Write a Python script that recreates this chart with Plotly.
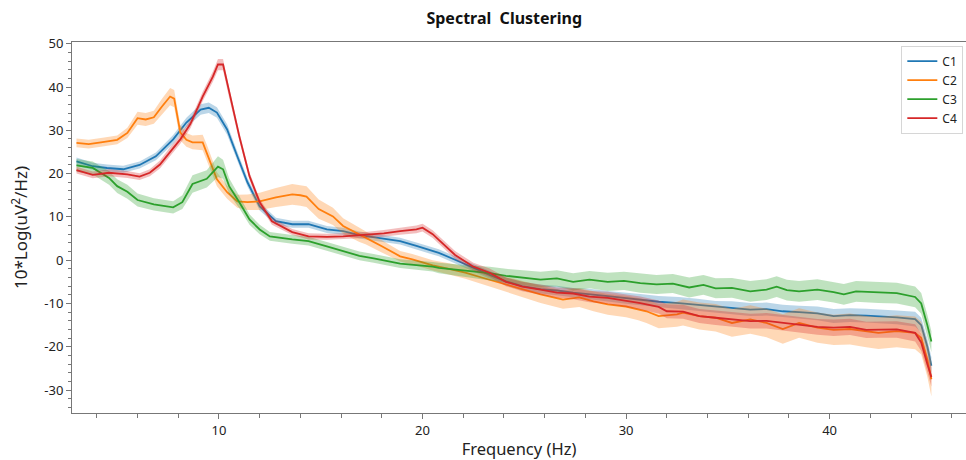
import plotly.graph_objects as go

# ---------------- data ----------------
clusters = ["C1", "C2", "C3", "C4"]
colors = ["#1f77b4", "#ff7f0e", "#2ca02c", "#d62728"]
bands = ["rgba(31,119,180,0.3)", "rgba(255,127,14,0.3)", "rgba(44,160,44,0.3)", "rgba(214,39,40,0.3)"]

freq_c1 = [3.0, 3.8, 4.5, 5.3, 6.1, 6.9, 7.75, 8.4, 9.1, 9.5, 9.9, 10.4, 10.9, 11.4, 12.0, 12.8, 13.6, 14.4, 15.3, 16.1,
           16.9, 17.6, 18.9, 19.7, 20.5, 20.8, 21.6, 22.5, 23.3, 24.1, 24.9, 25.8, 26.6, 27.4, 28.2, 29.1, 29.9, 30.7,
           31.6, 32.6, 33.5, 34.4, 35.2, 36.1, 36.9, 37.7, 38.5, 39.4, 40.2, 41.0, 41.8, 42.4, 43.3, 44.2, 44.5, 44.8, 45.0]
mean_c1 = [22.8, 21.7, 21.3, 21.0, 22.0, 24.0, 27.9, 31.8, 34.8, 35.2, 34.1, 30.2, 24.0, 18.0, 12.4, 9.0, 8.3, 8.3, 7.1, 6.7,
           5.8, 5.3, 4.4, 3.3, 2.1, 1.7, 0.1, -1.8, -3.4, -4.9, -6.0, -6.7, -7.0, -7.5, -7.8, -8.3, -8.7, -9.1,
           -9.6, -9.9, -10.3, -10.8, -11.0, -11.4, -11.3, -11.8, -12.0, -12.3, -12.9, -12.7, -12.8, -12.9, -13.2, -13.6, -15.0, -20.0, -24.4]
sem_c1 = [0.9, 0.8, 0.8, 0.8, 0.8, 0.9, 1.0, 1.1, 1.2, 1.2, 1.2, 1.2, 1.1, 1.0, 0.9, 0.8, 0.8, 0.8, 0.8, 0.8,
          0.8, 0.8, 0.8, 0.8, 0.8, 0.8, 0.8, 0.8, 0.9, 0.9, 1.0, 1.0, 1.1, 1.1, 1.2, 1.2, 1.3, 1.3,
          1.3, 1.4, 1.4, 1.4, 1.5, 1.5, 1.5, 1.5, 1.5, 1.6, 1.6, 1.6, 1.6, 1.6, 1.6, 1.7, 1.7, 1.8, 2.0]

freq_c2 = [3.0, 3.6, 4.2, 5.0, 5.5, 6.0, 6.4, 6.8, 7.2, 7.6, 7.8, 8.1, 8.4, 8.7, 9.2, 9.4, 9.9, 10.4, 10.9, 11.4,
           12.0, 12.8, 13.6, 14.0, 14.3, 14.9, 15.6, 16.1, 16.9, 17.2, 18.0, 18.9, 19.5, 20.5, 21.3, 22.1, 22.9, 23.7,
           24.5, 25.8, 26.9, 27.7, 28.4, 29.1, 30.0, 30.6, 31.0, 31.6, 32.5, 32.8, 33.6, 34.4, 35.2, 36.1, 36.9, 37.7,
           38.5, 39.4, 40.2, 41.0, 41.8, 42.4, 43.3, 44.2, 44.5, 44.8, 45.0]
mean_c2 = [27.1, 26.8, 27.2, 27.8, 29.4, 32.8, 32.5, 33.0, 35.5, 37.8, 37.3, 29.5, 27.8, 27.2, 27.2, 24.9, 18.7, 15.7, 13.6, 13.4,
           13.6, 14.5, 15.2, 15.0, 14.7, 11.8, 10.1, 7.9, 5.8, 5.2, 3.2, 0.9, 0.2, -1.2, -2.0, -2.9, -4.0, -5.1,
           -6.1, -7.9, -9.1, -8.6, -9.5, -10.2, -10.7, -11.3, -11.8, -12.9, -12.5, -12.1, -12.9, -13.3, -14.5, -13.7, -14.5, -15.9,
           -14.5, -15.6, -16.1, -15.9, -16.5, -16.8, -16.4, -16.8, -18.0, -23.0, -27.5]
sem_c2 = [1.0, 1.0, 1.0, 1.0, 1.2, 1.5, 1.5, 1.5, 1.8, 2.0, 2.0, 1.8, 1.6, 1.6, 1.8, 1.8, 1.6, 1.5, 1.5, 1.8,
          2.0, 2.2, 2.4, 2.4, 2.4, 2.2, 2.0, 1.8, 1.6, 1.5, 1.4, 1.2, 1.2, 1.2, 1.3, 1.4, 1.5, 1.6,
          1.8, 2.0, 2.1, 2.2, 2.3, 2.4, 2.5, 2.6, 2.7, 2.8, 2.9, 3.0, 3.1, 3.2, 3.2, 3.3, 3.3, 3.4,
          3.4, 3.5, 3.5, 3.6, 3.6, 3.7, 3.7, 3.8, 3.8, 3.9, 4.0]

freq_c3 = [3.0, 3.8, 4.6, 5.0, 5.5, 6.0, 6.8, 7.75, 8.2, 8.7, 9.4, 9.7, 9.95, 10.2, 10.5, 11.0, 11.5, 12.0, 12.5, 13.6,
           14.4, 15.3, 16.1, 16.9, 17.6, 18.9, 20.5, 20.8, 22.1, 22.5, 23.3, 24.1, 24.9, 25.8, 26.6, 27.4, 28.2, 29.1,
           29.9, 30.7, 31.5, 32.3, 33.1, 33.8, 34.4, 35.2, 36.1, 36.9, 37.4, 37.9, 38.5, 39.4, 40.2, 40.7, 41.3, 42.4,
           43.3, 44.2, 44.5, 44.8, 45.0]
mean_c3 = [21.9, 21.3, 19.0, 17.1, 15.8, 13.9, 12.9, 12.2, 13.4, 17.6, 18.8, 20.3, 21.6, 21.0, 17.1, 13.4, 9.4, 7.1, 5.5, 4.8,
           4.4, 3.2, 2.1, 1.0, 0.4, -0.8, -1.5, -1.8, -2.4, -2.6, -3.0, -3.6, -4.0, -4.5, -4.2, -5.0, -4.5, -5.0,
           -4.8, -5.3, -5.6, -5.4, -6.3, -5.7, -6.5, -6.4, -7.2, -6.8, -6.1, -6.9, -7.2, -6.8, -7.4, -7.9, -7.2, -7.5,
           -7.6, -8.5, -10.0, -15.0, -18.8]
sem_c3 = [1.5, 1.5, 1.6, 1.6, 1.6, 1.5, 1.4, 1.4, 1.6, 2.0, 2.0, 2.2, 2.4, 2.2, 1.8, 1.4, 1.2, 1.1, 1.0, 1.0,
          1.0, 1.0, 1.0, 1.0, 1.0, 1.0, 1.1, 1.2, 1.3, 1.4, 1.5, 1.6, 1.7, 1.8, 1.9, 2.0, 2.0, 2.1,
          2.1, 2.2, 2.2, 2.2, 2.3, 2.3, 2.3, 2.3, 2.4, 2.4, 2.4, 2.4, 2.4, 2.4, 2.4, 2.4, 2.4, 2.4,
          2.4, 2.4, 2.4, 2.4, 2.4]

freq_c4 = [3.0, 3.8, 4.6, 5.5, 6.1, 6.6, 7.1, 7.6, 8.1, 8.6, 9.2, 9.7, 9.95, 10.2, 10.5, 11.0, 11.5, 12.0, 12.6, 13.6,
           14.4, 15.3, 16.1, 17.2, 18.1, 18.9, 19.7, 20.0, 20.5, 20.8, 21.6, 22.5, 23.3, 24.1, 24.9, 25.8, 26.6, 27.4,
           28.2, 29.1, 29.9, 30.7, 31.6, 32.0, 32.8, 33.6, 34.4, 35.2, 36.1, 36.9, 37.7, 38.5, 39.4, 40.2, 41.0, 41.8,
           42.4, 43.3, 44.2, 44.5, 44.8, 45.0]
mean_c4 = [20.8, 19.7, 20.2, 19.8, 19.3, 20.2, 22.1, 25.1, 27.9, 31.5, 37.8, 42.4, 45.2, 45.2, 38.7, 28.6, 19.4, 13.4, 9.0, 6.5,
           5.5, 5.4, 5.5, 5.8, 6.2, 6.7, 7.1, 7.5, 6.0, 4.7, 1.2, -1.5, -2.9, -5.0, -6.1, -6.8, -7.5, -7.7,
           -8.4, -8.7, -9.3, -9.9, -10.8, -11.8, -11.9, -12.9, -13.3, -13.7, -14.1, -14.0, -14.5, -14.9, -15.4, -15.6, -15.4, -16.1,
           -16.0, -16.0, -16.8, -19.0, -24.0, -27.0]
sem_c4 = [0.8, 0.8, 0.8, 0.8, 0.8, 0.8, 0.9, 1.0, 1.0, 1.0, 1.1, 1.2, 1.3, 1.3, 1.2, 1.0, 0.9, 0.8, 0.8, 0.7,
          0.7, 0.7, 0.7, 0.7, 0.8, 0.8, 0.9, 0.9, 0.9, 0.9, 0.9, 0.9, 1.0, 1.0, 1.1, 1.2, 1.2, 1.3,
          1.3, 1.4, 1.4, 1.5, 1.5, 1.6, 1.6, 1.6, 1.7, 1.7, 1.7, 1.8, 1.8, 1.8, 1.8, 1.9, 1.9, 1.9,
          1.9, 1.9, 2.0, 2.0, 2.1, 2.2]

y_tickvals = [-30, -20, -10, 0, 10, 20, 30, 40, 50]
y_ticktext = ["-30", "-20", "-10", "0", "10", "20", "30", "40", "50"]
x_tickvals = [10, 20, 30, 40]
x_ticktext = ["10", "20", "30", "40"]

series = [
    (freq_c1, mean_c1, sem_c1),
    (freq_c2, mean_c2, sem_c2),
    (freq_c3, mean_c3, sem_c3),
    (freq_c4, mean_c4, sem_c4),
]

FONT = "Noto Sans"
fig = go.Figure()

for name, col, band, (f, m, s) in zip(clusters, colors, bands, series):
    upper = [a + b for a, b in zip(m, s)]
    lower = [a - b for a, b in zip(m, s)]
    fig.add_trace(go.Scatter(
        x=list(f) + list(f)[::-1], y=upper + lower[::-1],
        fill="toself", fillcolor=band, line=dict(width=0),
        mode="lines", hoverinfo="skip", showlegend=False, legendgroup=name))
    fig.add_trace(go.Scatter(
        x=f, y=m, mode="lines", name=name, legendgroup=name,
        line=dict(color=col, width=1.8)))

fig.update_layout(
    width=966, height=460,
    margin=dict(l=72, r=0, t=42, b=47),
    paper_bgcolor="white", plot_bgcolor="white",
    font=dict(family=FONT, size=13, color="#222"),
    title=dict(text="<b>Spectral  Clustering</b>", x=0.522, xref="container", xanchor="center",
               y=0.959, yref="container", yanchor="middle",
               font=dict(family=FONT, size=16, color="#111")),
    legend=dict(x=0.997, y=0.99, xanchor="right", yanchor="top",
                bgcolor="white", bordercolor="#d6d6d6", borderwidth=1,
                font=dict(family=FONT, size=12, color="#222"), tracegroupgap=0),
    showlegend=True,
)

fig.update_xaxes(
    range=[2.78, 46.7], showgrid=False, zeroline=False,
    showline=True, linecolor="#777", linewidth=1, mirror=True,
    ticks="outside", ticklen=5, tickcolor="#777",
    tickvals=x_tickvals, ticktext=x_ticktext,
    tickfont=dict(family=FONT, size=13, color="#222"),
    minor=dict(tickmode="linear", tick0=0, dtick=2, ticks="outside", ticklen=4, tickcolor="#777"),
    title=dict(text="Frequency (Hz)", font=dict(family=FONT, size=16.5, color="#222"), standoff=6),
)
fig.update_yaxes(
    range=[-35.3, 50.4], showgrid=False, zeroline=False,
    showline=True, linecolor="#777", linewidth=1,
    ticks="outside", ticklen=5, tickcolor="#777",
    tickvals=y_tickvals, ticktext=y_ticktext,
    tickfont=dict(family=FONT, size=13, color="#222"),
    minor=dict(tickmode="linear", tick0=0, dtick=2, ticks="outside", ticklen=3, tickcolor="#777"),
    title=dict(text="10*Log(uV<sup>2</sup>/Hz)", font=dict(family=FONT, size=17, color="#222"), standoff=12),
)

fig.write_html("out.html", config={"displayModeBar": False},
               post_script="document.body.style.margin='0';document.body.style.overflow='hidden';")
